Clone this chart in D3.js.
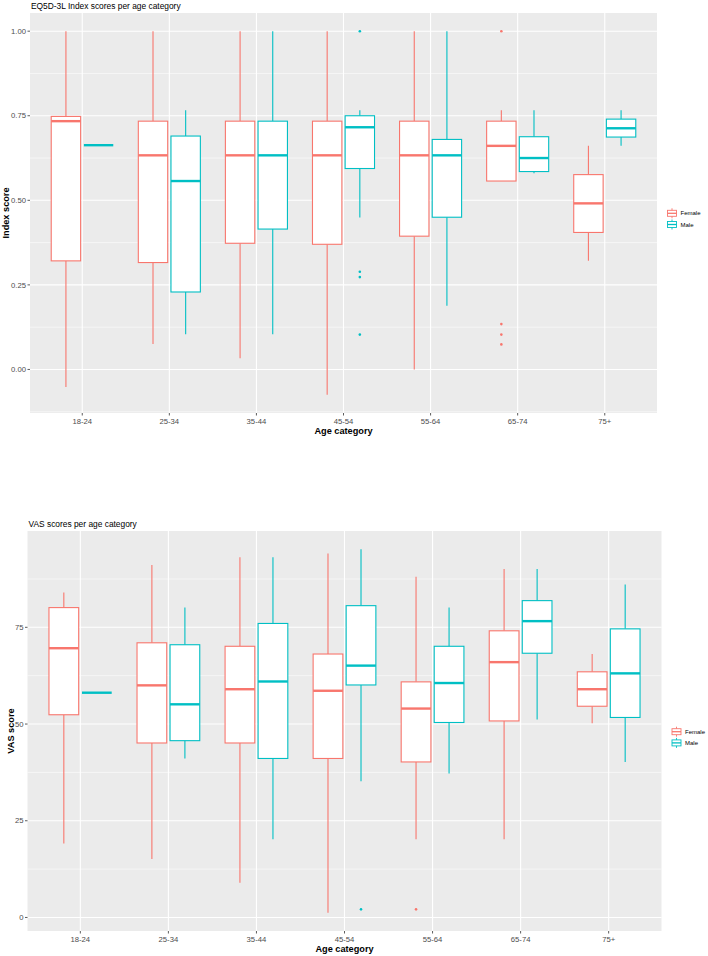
<!DOCTYPE html>
<html><head><meta charset="utf-8">
<script src="https://cdn.jsdelivr.net/npm/d3@7"></script>
<style>
html,body{margin:0;padding:0;background:#fff;}
svg{display:block;font-family:"Liberation Sans",Arial,sans-serif;}
</style></head>
<body>
<svg id="chart" width="708" height="956"></svg>
<script>
// ---------- DATA ----------
const categories = ["18-24","25-34","35-44","45-54","55-64","65-74","75+"];
const groups = ["Female","Male"];
const groupColors = ["#F8766D","#00BFC4"];

// five-number summaries: [lower whisker, Q1, median, Q3, upper whisker]
const indexFemale = [
  [-0.052,0.321,0.734,0.748,1.000],
  [0.075,0.316,0.633,0.734,1.000],
  [0.033,0.373,0.633,0.734,1.000],
  [-0.075,0.370,0.633,0.734,1.000],
  [0.000,0.394,0.633,0.734,1.000],
  [0.557,0.557,0.661,0.734,0.766],
  [0.321,0.405,0.491,0.576,0.661]
];
const indexMale = [
  [0.663,0.663,0.663,0.663,0.663],
  [0.104,0.229,0.557,0.690,0.766],
  [0.104,0.415,0.633,0.734,1.000],
  [0.449,0.594,0.716,0.750,0.766],
  [0.188,0.450,0.633,0.680,1.000],
  [0.580,0.585,0.625,0.688,0.766],
  [0.661,0.687,0.713,0.740,0.766]
];
const indexFemaleOutliers = [[],[],[],[],[],[1.000,0.134,0.103,0.074],[]];
const indexMaleOutliers = [[],[],[],[1.000,0.289,0.273,0.103],[],[],[]];
const indexTicks = [0,0.25,0.5,0.75,1.0];
const indexTickLabels = ["0.00","0.25","0.50","0.75","1.00"];

const vasFemale = [
  [19.1,52.4,69.6,80.1,84.0],
  [15.1,45.1,60.0,71.0,91.1],
  [9.0,45.1,59.0,70.1,93.1],
  [1.2,41.1,58.6,68.1,94.1],
  [20.2,40.2,54.0,60.9,88.1],
  [20.2,50.8,66.0,74.1,90.1],
  [50.2,54.6,59.0,63.5,68.1]
];
const vasMale = [
  [58.1,58.1,58.1,58.1,58.1],
  [41.1,45.7,55.1,70.5,80.1],
  [20.2,41.1,61.0,76.0,93.1],
  [35.2,60.1,65.1,80.6,95.2],
  [37.2,50.4,60.6,70.1,80.1],
  [51.2,68.3,76.6,81.9,90.1],
  [40.2,51.7,63.1,74.6,86.1]
];
const vasFemaleOutliers = [[],[],[],[],[2.1],[],[]];
const vasMaleOutliers = [[],[],[],[2.1],[],[],[]];
const vasTicks = [0,25,50,75];
const vasTickLabels = ["0","25","50","75"];

// ---------- DRAWING ----------
const svg = d3.select("#chart");
const FONT_TICK = 7.7, FONT_TITLE = 9.2;

function drawPanel(cfg){
  const g = svg.append("g");
  const {x0,x1,y0,y1} = cfg;
  const allVals = [];
  cfg.series.forEach(s=>{ s.forEach(r=>allVals.push(r[0],r[4])); });
  cfg.outliers.forEach(s=>s.forEach(o=>o.forEach(v=>allVals.push(v))));
  const mn = d3.min(allVals), mx = d3.max(allVals), ex = (mx-mn)*0.05;
  const y = d3.scaleLinear().domain([mn-ex, mx+ex]).range([y1,y0]);
  const x = d3.scalePoint().domain(categories).range([x0,x1]).padding(0.6);
  const step = x.step();

  // background
  g.append("rect").attr("x",x0).attr("y",y0).attr("width",x1-x0).attr("height",y1-y0).attr("fill","#EBEBEB");
  // minor grid
  const minor = [];
  for(let i=0;i<cfg.ticks.length-1;i++) minor.push((cfg.ticks[i]+cfg.ticks[i+1])/2);
  const dt = cfg.ticks[1]-cfg.ticks[0];
  minor.push(cfg.ticks[0]-dt/2, cfg.ticks[cfg.ticks.length-1]+dt/2);
  const [dlo,dhi] = y.domain();
  g.selectAll(".minor").data(minor.filter(v=>v>=dlo&&v<=dhi)).enter().append("line")
    .attr("x1",x0).attr("x2",x1).attr("y1",d=>y(d)).attr("y2",d=>y(d))
    .attr("stroke","#fff").attr("stroke-width",0.55);
  // major grid
  g.selectAll(".majorH").data(cfg.ticks).enter().append("line")
    .attr("x1",x0).attr("x2",x1).attr("y1",d=>y(d)).attr("y2",d=>y(d))
    .attr("stroke","#fff").attr("stroke-width",1.1);
  g.selectAll(".majorV").data(categories).enter().append("line")
    .attr("y1",y0).attr("y2",y1).attr("x1",d=>x(d)).attr("x2",d=>x(d))
    .attr("stroke","#fff").attr("stroke-width",1.1);

  // boxes
  const off = step*0.1875, bw = step*0.3375;
  cfg.series.forEach((ser,gi)=>{
    const col = groupColors[gi];
    const sign = gi===0?-1:1;
    ser.forEach((r,ci)=>{
      const cx = x(categories[ci]) + sign*off;
      const bg = g.append("g");
      bg.append("line").attr("x1",cx).attr("x2",cx).attr("y1",y(r[3])).attr("y2",y(r[4])).attr("stroke",col).attr("stroke-width",1.1);
      bg.append("line").attr("x1",cx).attr("x2",cx).attr("y1",y(r[1])).attr("y2",y(r[0])).attr("stroke",col).attr("stroke-width",1.1);
      bg.append("rect").attr("x",cx-bw/2).attr("width",bw).attr("y",y(r[3])).attr("height",Math.max(0,y(r[1])-y(r[3])))
        .attr("fill","#fff").attr("stroke",col).attr("stroke-width",1.1);
      bg.append("line").attr("x1",cx-bw/2).attr("x2",cx+bw/2).attr("y1",y(r[2])).attr("y2",y(r[2])).attr("stroke",col).attr("stroke-width",2.4);
      cfg.outliers[gi][ci].forEach(v=>{
        bg.append("circle").attr("cx",cx).attr("cy",y(v)).attr("r",1.3).attr("fill",col);
      });
    });
  });

  // y axis ticks & labels
  cfg.ticks.forEach((t,i)=>{
    g.append("line").attr("x1",x0-2.5).attr("x2",x0).attr("y1",y(t)).attr("y2",y(t)).attr("stroke","#333").attr("stroke-width",0.8);
    g.append("text").attr("x",x0-4).attr("y",y(t)).attr("dy","0.35em").attr("text-anchor","end")
      .attr("font-size",FONT_TICK).attr("fill","#4D4D4D").text(cfg.tickLabels[i]);
  });
  // x axis ticks & labels
  categories.forEach(c=>{
    g.append("line").attr("x1",x(c)).attr("x2",x(c)).attr("y1",y1).attr("y2",y1+2.5).attr("stroke","#333").attr("stroke-width",0.8);
    g.append("text").attr("x",x(c)).attr("y",y1+10.5).attr("text-anchor","middle")
      .attr("font-size",FONT_TICK).attr("fill","#4D4D4D").text(c);
  });
  // axis titles
  g.append("text").attr("x",(x0+x1)/2).attr("y",y1+20.5).attr("text-anchor","middle")
    .attr("font-size",FONT_TITLE).attr("font-weight","bold").attr("fill","#000").text("Age category");
  g.append("text").attr("transform",`translate(${cfg.ytitleX},${(y0+y1)/2}) rotate(-90)`).attr("text-anchor","middle")
    .attr("font-size",FONT_TITLE).attr("font-weight","bold").attr("fill","#000").text(cfg.ytitle);
  // plot title
  g.append("text").attr("x",x0+1).attr("y",y0-4).attr("font-size",8.4).attr("fill","#000").text(cfg.title);

  // legend
  groups.forEach((gname,gi)=>{
    const col = groupColors[gi];
    const ly = cfg.legendY + gi*11.2, lx = cfg.legendX;
    const lg = g.append("g");
    lg.append("line").attr("x1",lx+4.5).attr("x2",lx+4.5).attr("y1",ly-5).attr("y2",ly+5).attr("stroke",col).attr("stroke-width",0.9);
    lg.append("rect").attr("x",lx).attr("y",ly-3).attr("width",9).attr("height",6).attr("fill","#fff").attr("stroke",col).attr("stroke-width",0.9);
    lg.append("line").attr("x1",lx).attr("x2",lx+9).attr("y1",ly).attr("y2",ly).attr("stroke",col).attr("stroke-width",1.3);
    lg.append("text").attr("x",lx+13).attr("y",ly).attr("dy","0.35em").attr("font-size",6).attr("fill","#000").text(gname);
  });
}

drawPanel({
  x0:30, x1:657, y0:13, y1:413,
  series:[indexFemale,indexMale], outliers:[indexFemaleOutliers,indexMaleOutliers],
  ticks:indexTicks, tickLabels:indexTickLabels,
  ytitle:"Index score", ytitleX:9, title:"EQ5D-3L Index scores per age category",
  legendX:667.5, legendY:213.3
});
drawPanel({
  x0:27.5, x1:661.5, y0:531, y1:931,
  series:[vasFemale,vasMale], outliers:[vasFemaleOutliers,vasMaleOutliers],
  ticks:vasTicks, tickLabels:vasTickLabels,
  ytitle:"VAS score", ytitleX:14, title:"VAS scores per age category",
  legendX:672, legendY:731.7
});
</script>
</body></html>
